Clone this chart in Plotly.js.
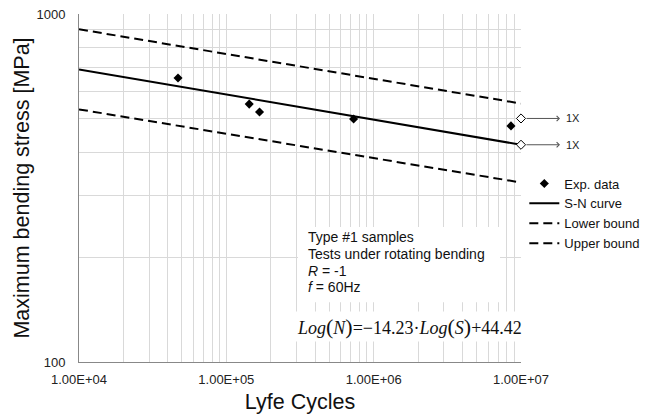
<!DOCTYPE html>
<html>
<head>
<meta charset="utf-8">
<script src="https://cdn.plot.ly/plotly-3.0.1.min.js"></script>
<style>html,body{margin:0;padding:0;background:#fff;}#chart{width:658px;height:418px;}</style>
</head>
<body>
<div id="chart"></div>
<script>
// Experimental data
const cycles = [47000, 143000, 168000, 731000, 8550000];
const stress = [655, 551, 523, 499, 477];
// Run-outs (not failed)
const runoutCycles = [1e7, 1e7];
const runoutStress = [501, 421];
const runoutLabels = ["1X", "1X"];
// Curves
const curveCycles = [1e4, 1e7];
const snStress = [693, 421];
const lowerStress = [532, 328];
const upperStress = [904, 553];
// Ticks
const xTickVals = [1e4,2e4,3e4,4e4,5e4,6e4,7e4,8e4,9e4,1e5,2e5,3e5,4e5,5e5,6e5,7e5,8e5,9e5,1e6,2e6,3e6,4e6,5e6,6e6,7e6,8e6,9e6,1e7];
const xTickText = ["1.00E+04","","","","","","","","","1.00E+05","","","","","","","","","1.00E+06","","","","","","","","","1.00E+07"];
const yTickVals = [100,200,300,400,500,600,700,800,900,1000];
const yTickText = ["100","","","","","","","","","1000"];
// Notes
const noteLines = ["Type #1 samples", "Tests under rotating bending", "<i>R</i> = -1", "<i>f</i> = 60Hz"];
const equationText = "<i>Log</i><span style='font-size:22px'>(</span><i>N</i><span style='font-size:22px'>)</span>=−14.23·<i>Log</i><span style='font-size:22px'>(</span><i>S</i><span style='font-size:22px'>)</span>+44.42";

const FONT = "Liberation Sans, Arial, sans-serif";
const dashStyle = "9px,5px";

const traces = [
  {x: cycles, y: stress, mode: "markers", name: "Exp. data",
   marker: {symbol: "diamond", size: 7, color: "#000"}},
  {x: curveCycles, y: snStress, mode: "lines", name: "S-N curve",
   line: {color: "#000", width: 2}},
  {x: curveCycles, y: lowerStress, mode: "lines", name: "Lower bound",
   line: {color: "#000", width: 2, dash: dashStyle}},
  {x: curveCycles, y: upperStress, mode: "lines", name: "Upper bound",
   line: {color: "#000", width: 2, dash: dashStyle}},
  {x: runoutCycles, y: runoutStress, mode: "markers", showlegend: false, cliponaxis: false,
   marker: {symbol: "diamond", size: 7, color: "#fff", line: {color: "#000", width: 1}}}
];

const annotations = [];
runoutCycles.forEach((c, i) => {
  annotations.push({x: Math.log10(c), y: Math.log10(runoutStress[i]), xref: "x", yref: "y",
    text: "", showarrow: true, arrowhead: 4, arrowsize: 1, arrowwidth: 1, arrowcolor: "#555",
    ax: -35, ay: 0, xshift: 39, standoff: 0, startstandoff: 0});
  annotations.push({x: Math.log10(c), y: Math.log10(runoutStress[i]), xref: "x", yref: "y",
    text: runoutLabels[i], showarrow: false, xanchor: "left", xshift: 43,
    font: {family: FONT, size: 11, color: "#222"}});
});
const noteY = [0.359, 0.311, 0.262, 0.215];
noteLines.forEach((t, i) => {
  annotations.push({xref: "paper", yref: "paper", x: 0.5158, y: noteY[i], xanchor: "left", yanchor: "middle",
    align: "left", showarrow: false, borderpad: 0, text: t,
    font: {family: FONT, size: 14, color: "#111"}});
});
annotations.push({xref: "paper", yref: "paper", x: 0.747, y: 0.103, xanchor: "center", yanchor: "middle",
  showarrow: false, bgcolor: "#fff", borderpad: 2, text: equationText,
  font: {family: "Liberation Serif, Times New Roman, serif", size: 18, color: "#111"}});

const layout = {
  width: 658, height: 418,
  margin: {l: 79, r: 137, t: 14, b: 56},
  paper_bgcolor: "#fff", plot_bgcolor: "#fff",
  font: {family: FONT, color: "#222"},
  showlegend: true,
  legend: {x: 1.0075, y: 0.556, xanchor: "left", yanchor: "top", font: {family: FONT, size: 13, color: "#111"},
    bgcolor: "rgba(0,0,0,0)", tracegroupgap: 0},
  shapes: [{type: "rect", xref: "paper", yref: "paper", x0: 0.4955, x1: 0.9525, y0: 0.172, y1: 0.388,
    fillcolor: "#fff", line: {width: 0}, layer: "above"}],
  xaxis: {type: "log", range: [4, 7], tickvals: xTickVals, ticktext: xTickText,
    showgrid: true, gridcolor: "#d9d9d9", gridwidth: 1, zeroline: false,
    showline: true, linecolor: "#888", linewidth: 1, ticks: "", ticklabelstandoff: 5,
    tickfont: {family: FONT, size: 13, color: "#222"},
    title: {text: "Lyfe Cycles", font: {family: FONT, size: 21.5, color: "#111"}, standoff: 8}},
  yaxis: {type: "log", range: [2, 3], tickvals: yTickVals, ticktext: yTickText,
    showgrid: true, gridcolor: "#d9d9d9", gridwidth: 1, zeroline: false,
    showline: true, linecolor: "#888", linewidth: 1, ticks: "", ticklabelstandoff: 10,
    tickfont: {family: FONT, size: 13, color: "#222"},
    title: {text: "Maximum bending stress [MPa]", font: {family: FONT, size: 21.5, color: "#111"}, standoff: 0}},
  annotations: annotations
};

Plotly.newPlot("chart", traces, layout, {displayModeBar: false, staticPlot: true});
</script>
</body>
</html>
